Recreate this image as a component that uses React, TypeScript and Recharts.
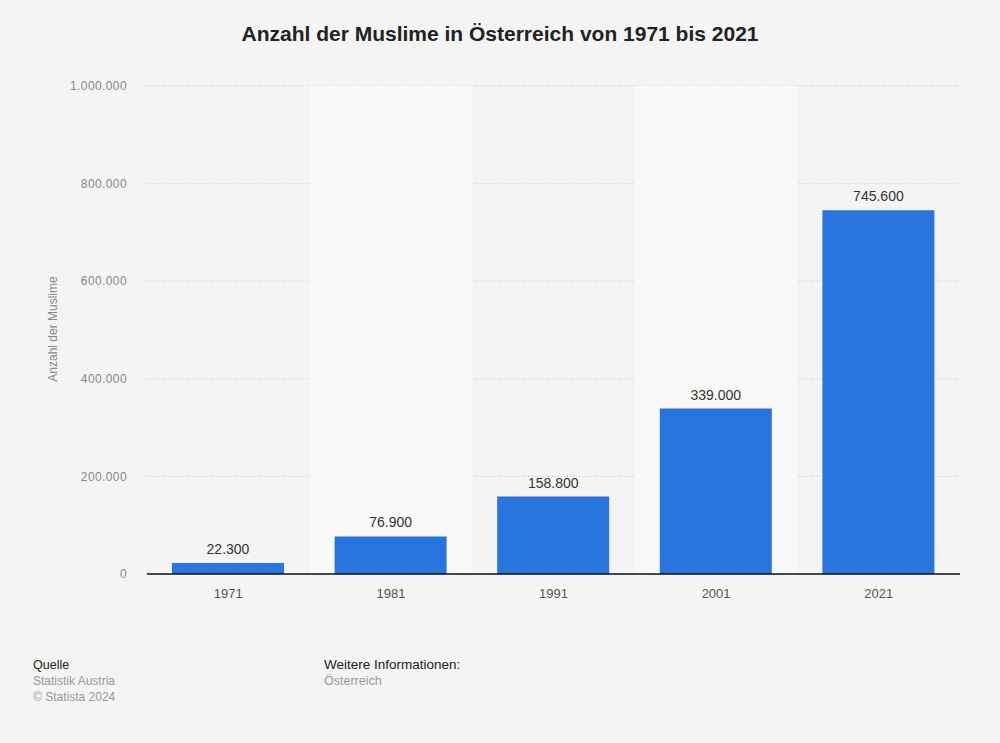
import { BarChart, Bar, XAxis, YAxis, CartesianGrid, ReferenceArea, LabelList } from 'recharts';

const years = ['1971', '1981', '1991', '2001', '2021'];
const muslims = [22300, 76900, 158800, 339000, 745600];
const yTicks = [0, 200000, 400000, 600000, 800000, 1000000];
const shadedYears = ['1981', '2001'];

const data = years.map((year, i) => ({ year, value: muslims[i] }));

function formatDe(v: number) {
  return String(v).replace(/\B(?=(\d{3})+(?!\d))/g, '.');
}

const font = '"Liberation Sans", Arial, Helvetica, sans-serif';

export default function App() {
  return (
    <div
      style={{
        position: 'absolute',
        left: 0,
        top: 0,
        width: 1000,
        height: 743,
        background: '#f4f4f4',
        fontFamily: font,
        overflow: 'hidden',
      }}
    >
      <div
        style={{
          position: 'absolute',
          top: 22,
          left: 0,
          width: 1000,
          textAlign: 'center',
          fontSize: 21,
          fontWeight: 'bold',
          color: '#222',
        }}
      >
        Anzahl der Muslime in Österreich von 1971 bis 2021
      </div>

      <BarChart
        width={1000}
        height={743}
        data={data}
        margin={{ top: 86, right: 40, left: 0, bottom: 139 }}
        style={{ position: 'absolute', left: 0, top: 0 }}
      >
        {shadedYears.map((y) => (
          <ReferenceArea key={y} x1={y} x2={y} y1={0} y2={1000000} fill="#f9f9f9" fillOpacity={1} stroke="none" ifOverflow="visible" />
        ))}
        <CartesianGrid vertical={false} stroke="#c8c8c8" strokeDasharray="1 2" />
        <XAxis
          dataKey="year"
          tickLine={false}
          axisLine={{ stroke: '#111', strokeWidth: 1.3 }}
          tick={{ fill: '#555', fontSize: 13, fontFamily: font }}
          tickMargin={9}
        />
        <YAxis
          width={147}
          domain={[0, 1000000]}
          ticks={yTicks}
          tickFormatter={formatDe}
          axisLine={false}
          tickLine={false}
          tickMargin={14}
          tick={{ fill: '#888', fontSize: 12, fontFamily: font, letterSpacing: 0.4 }}
        />
        <Bar dataKey="value" fill="#2876dd" barSize={112} isAnimationActive={false}>
          <LabelList
            dataKey="value"
            position="top"
            offset={9}
            formatter={(v: number) => formatDe(v)}
            style={{ fill: '#333', fontSize: 14, fontFamily: font }}
          />
        </Bar>
      </BarChart>

      <div
        style={{
          position: 'absolute',
          left: 53,
          top: 329,
          transform: 'translate(-50%, -50%) rotate(-90deg)',
          whiteSpace: 'nowrap',
          fontSize: 12,
          color: '#888',
        }}
      >
        Anzahl der Muslime
      </div>

      <div style={{ position: 'absolute', left: 33, top: 657, fontSize: 12, lineHeight: '16px' }}>
        <div style={{ color: '#222', fontSize: 12.5 }}>Quelle</div>
        <div style={{ color: '#999' }}>Statistik Austria</div>
        <div style={{ color: '#999' }}>© Statista 2024</div>
      </div>
      <div style={{ position: 'absolute', left: 324, top: 657, fontSize: 12.5, lineHeight: '16px' }}>
        <div style={{ color: '#222', fontSize: 13.5 }}>Weitere Informationen:</div>
        <div style={{ color: '#999' }}>Österreich</div>
      </div>
    </div>
  );
}
